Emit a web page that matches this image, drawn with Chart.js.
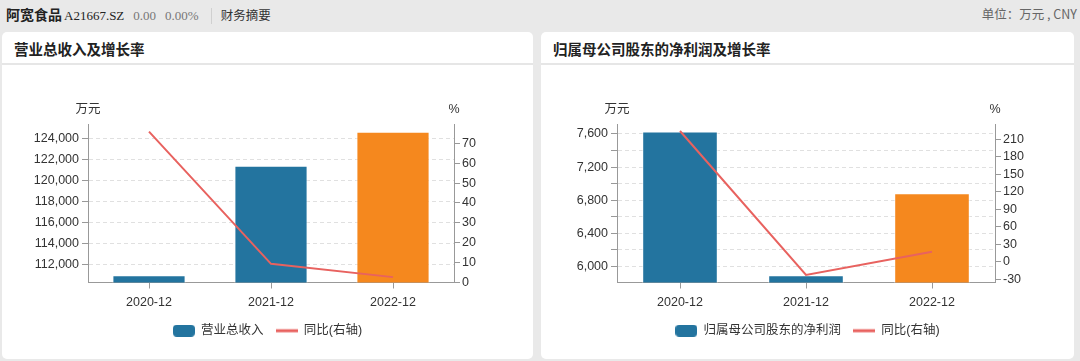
<!DOCTYPE html>
<html lang="zh-CN">
<head>
<meta charset="UTF-8">
<script src="https://cdn.jsdelivr.net/npm/chart.js"></script>
<title>阿宽食品 财务摘要</title>
<style>
  body { margin:0; width:1080px; height:361px; background:#e9e9e9; position:relative; overflow:hidden;
         font-family:"Liberation Sans","Noto Sans CJK SC",sans-serif; color:#333; }
  .head { position:absolute; top:5px; left:6px; height:18px; line-height:18px; white-space:nowrap; }
  .head .name { font-family:"Noto Sans CJK SC"; font-weight:bold; font-size:14px; color:#222; }
  .head .code { font-family:"Liberation Serif","DejaVu Serif",serif; font-size:13px; color:#222; margin-left:2px; }
  .head .num { font-family:"Liberation Serif","DejaVu Serif",serif; font-size:13px; color:#777; margin-left:9px; }
  .head .sep { display:inline-block; width:1px; height:16px; background:#d0d0d0; vertical-align:middle; margin:0 9px 0 12px; }
  .head .tab { font-family:"Noto Sans CJK SC"; font-size:12.5px; color:#333; }
  .unit { position:absolute; top:5px; right:3px; line-height:18px; font-size:12.5px; color:#666; font-family:"Noto Sans CJK SC","Liberation Sans",sans-serif; }
  .panel { position:absolute; top:32px; height:327px; background:#fff; border-radius:5px; }
  .panel .title { height:31px; line-height:33px; padding-left:12px; font-family:"Noto Sans CJK SC"; font-weight:bold; font-size:14.5px; color:#222;
                  border-bottom:2px solid #e6e6e6; }
  .panel canvas { position:absolute; left:0; top:33px; }
</style>
</head>
<body>
<div class="head"><span class="name">阿宽食品</span><span class="code">A21667.SZ</span><span class="num">0.00</span><span class="num">0.00%</span><span class="sep"></span><span class="tab">财务摘要</span></div>
<div class="unit">单位：万元 , CNY</div>

<div class="panel" style="left:2px;width:531px;">
  <div class="title">营业总收入及增长率</div>
  <canvas id="revChart" width="531" height="294"></canvas>
</div>
<div class="panel" style="left:541px;width:533px;">
  <div class="title">归属母公司股东的净利润及增长率</div>
  <canvas id="profitChart" width="533" height="294"></canvas>
</div>

<script>
const categories = ['2020-12', '2021-12', '2022-12'];

const revenue = [111020, 121400, 124620];
const revenueYoy = [75.9, 9.4, 2.7];
const revenueTicks = [112000, 114000, 116000, 118000, 120000, 122000, 124000];
const revenuePctTicks = [0, 10, 20, 30, 40, 50, 60, 70];

const profit = [7628, 5896, 6884];
const profitYoy = [224, -22.7, 16.8];
const profitTicks = [6000, 6200, 6400, 6600, 6800, 7000, 7200, 7400, 7600];
const profitPctTicks = [-30, 0, 30, 60, 90, 120, 150, 180, 210];

const BLUE = '#23749f';
const ORANGE = '#f5881e';
const RED = '#e8625f';
const barColors = [BLUE, BLUE, ORANGE];

const fontFamily = '"Liberation Sans","Noto Sans CJK SC",sans-serif';

// little images for the legend swatches
function swatchBox() {
  const c = document.createElement('canvas');
  c.width = 22; c.height = 12;
  const g = c.getContext('2d');
  g.fillStyle = BLUE;
  g.beginPath();
  g.roundRect(0, 0, 22, 12, 4);
  g.fill();
  return c;
}
function swatchLine() {
  const c = document.createElement('canvas');
  c.width = 22; c.height = 12;
  const g = c.getContext('2d');
  g.fillStyle = RED;
  g.fillRect(0, 4.5, 22, 3);
  return c;
}

const axisTitles = {
  id: 'axisTitles',
  afterDraw(chart) {
    const ctx = chart.ctx, a = chart.chartArea;
    ctx.save();
    ctx.fillStyle = '#333';
    ctx.font = '12.5px ' + fontFamily;
    ctx.textAlign = 'center';
    ctx.textBaseline = 'middle';
    ctx.fillText('万元', a.left, a.top - 14);
    ctx.fillText('%', a.right, a.top - 14);
    ctx.restore();
  }
};

function makeChart(id, barLabel, bars, yoy, leftTicks, rightTicks, leftRange, rightRange, leftW, rightW, labelEvery) {
  new Chart(document.getElementById(id), {
    data: {
      labels: categories,
      datasets: [
        { type: 'line', label: '同比(右轴)', data: yoy, yAxisID: 'y1', borderColor: RED, borderWidth: 2,
          pointRadius: 0, tension: 0, order: 0 },
        { type: 'bar', label: barLabel, data: bars, yAxisID: 'y', backgroundColor: barColors,
          borderColor: 'rgba(255,255,255,0.7)', borderWidth: 1, barPercentage: 0.6, categoryPercentage: 1, order: 1 }
      ]
    },
    options: {
      responsive: false,
      animation: false,
      layout: { padding: { top: 59, bottom: 12, left: 0, right: 0 } },
      plugins: {
        tooltip: { enabled: false },
        legend: {
          position: 'bottom',
          labels: {
            usePointStyle: true,
            pointStyleWidth: 22,
            padding: 12,
            color: '#333',
            font: { size: 12.5, family: fontFamily },
            generateLabels: () => [
              { text: barLabel, pointStyle: swatchBox(), datasetIndex: 1, fontColor: '#333', lineWidth: 0, hidden: false },
              { text: '同比(右轴)', pointStyle: swatchLine(), datasetIndex: 0, fontColor: '#333', lineWidth: 0, hidden: false }
            ]
          }
        }
      },
      scales: {
        x: {
          offset: true,
          border: { color: '#999' },
          grid: { offset: false, drawOnChartArea: false, drawTicks: true, tickLength: 6, color: '#999' },
          ticks: { color: '#333', padding: 7, font: { size: 12.5, family: fontFamily } },
          afterFit: s => { s.height = 30; }
        },
        y: {
          position: 'left',
          min: leftRange[0], max: leftRange[1],
          border: { color: '#999', dash: [4, 3] },
          grid: { color: '#e0e0e0', tickColor: '#999', tickLength: 6, tickBorderDash: [] },
          afterBuildTicks: s => { s.ticks = leftTicks.map(v => ({ value: v })); },
          ticks: {
            color: '#333', padding: 3, font: { size: 12.5, family: fontFamily },
            callback: v => (v % labelEvery === 0 ? v.toLocaleString('en-US') : '')
          },
          afterFit: s => { s.width = leftW; }
        },
        y1: {
          position: 'right',
          min: rightRange[0], max: rightRange[1],
          border: { color: '#999' },
          grid: { drawOnChartArea: false, color: '#999', tickLength: 6 },
          afterBuildTicks: s => { s.ticks = rightTicks.map(v => ({ value: v })); },
          ticks: { color: '#333', padding: 2, font: { size: 12.5, family: fontFamily } },
          afterFit: s => { s.width = rightW; }
        }
      }
    },
    plugins: [axisTitles]
  });
}

makeChart('revChart', '营业总收入', revenue, revenueYoy, revenueTicks, revenuePctTicks,
  [110323, 125355], [0, 79.7], 86, 79, 2000);
makeChart('profitChart', '归属母公司股东的净利润', profit, profitYoy, profitTicks, profitPctTicks,
  [5807, 7720], [-35.8, 236], 76, 79, 400);
</script>
</body>
</html>
